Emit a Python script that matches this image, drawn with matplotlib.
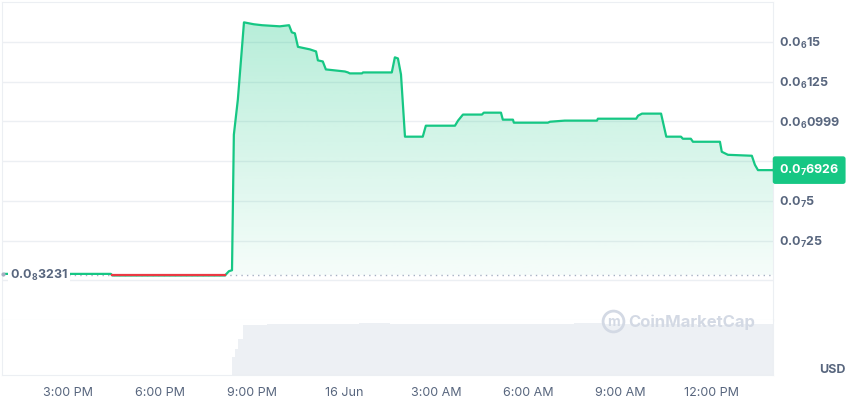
import matplotlib.pyplot as plt
from matplotlib.lines import Line2D
import matplotlib.transforms as mtransforms
import numpy as np

plt.rcParams['font.family'] = ['Inter', 'DejaVu Sans']
plt.rcParams['mathtext.fontset'] = 'custom'
plt.rcParams['mathtext.rm'] = 'Inter'
plt.rcParams['mathtext.bf'] = 'Inter:bold'
plt.rcParams['mathtext.default'] = 'bf'

# hours since 15 Jun 00:00
price_hours = [12.95, 16.40, 16.45, 20.12, 20.25, 20.35, 20.41, 20.54, 20.74, 21.06,
               21.33, 21.91, 22.21, 22.30, 22.40, 22.50, 22.89, 23.09, 23.15, 23.31,
               23.41, 24.03, 24.13, 24.19, 24.59, 24.62, 25.56, 25.66, 25.76, 25.86,
               25.99, 26.57, 26.67, 27.62, 27.72, 27.88, 28.50, 28.56, 29.12, 29.18,
               29.51, 29.54, 30.65, 30.72, 31.20, 32.25, 32.28, 33.53, 33.59, 33.72,
               34.34, 34.51, 34.99, 35.05, 35.31, 35.38, 36.26, 36.32, 36.52, 37.30,
               37.40, 37.50, 37.99]
# price in units of 1e-8 USD
price_e8 = [0.40, 0.40, 0.30, 0.30, 0.57, 0.63, 9.15, 11.36, 16.22, 16.10,
            16.04, 15.97, 16.04, 15.59, 15.53, 14.68, 14.52, 14.39, 13.83, 13.76,
            13.26, 13.13, 13.07, 13.01, 13.01, 13.07, 13.07, 14.02, 13.95, 12.94,
            9.03, 9.03, 9.72, 9.72, 10.04, 10.42, 10.42, 10.54, 10.54, 10.10,
            10.10, 9.91, 9.91, 9.97, 10.04, 10.04, 10.16, 10.16, 10.35, 10.48,
            10.48, 9.03, 9.03, 8.90, 8.90, 8.71, 8.71, 8.08, 7.89, 7.83,
            7.26, 6.926, 6.926]

open_price = 0.3231e-8
last_price = 6.926e-8

vol_hours = [12.85, 20.30, 20.35, 20.45, 20.55, 20.70, 21.5, 22.5, 23.5, 24.5, 25.5,
             26.5, 27.5, 28.5, 29.5, 30.5, 31.5, 32.5, 33.5, 34.5, 35.5, 36.5,
             37.5, 37.99]
vol = [0, 0, 0.35, 0.50, 0.68, 0.96, 0.98, 0.97, 0.98, 0.99, 0.98, 0.97,
       0.98, 0.98, 0.97, 0.98, 0.99, 0.98, 0.97, 0.97, 0.96, 0.97, 0.98, 0.98]

x_ticks = [15, 18, 21, 24, 27, 30, 33, 36]
x_labels = ['3:00 PM', '6:00 PM', '9:00 PM', '16 Jun', '3:00 AM', '6:00 AM',
            '9:00 AM', '12:00 PM']
# the 0.0_7 75 label sits under the price tag, so it is left out
y_ticks = [2.5e-8, 5e-8, 9.99e-8, 1.25e-7, 1.5e-7]
y_labels = ['0.0$_7$25', '0.0$_7$5', '0.0$_6$0999', '0.0$_6$125', '0.0$_6$15']

green = '#16c784'
red = '#ea3943'
txt = '#58667e'
edge = '#eceff3'

price = np.array(price_e8) * 1e-8
hours = np.array(price_hours)

fig = plt.figure(figsize=(8.5, 4), dpi=100)
W, H = 850, 400
ax = fig.add_axes([2 / W, 1 - 320 / H, 771 / W, 318 / H])
axv = fig.add_axes([2 / W, 1 - 375 / H, 771 / W, 55 / H])

xmin, xmax = 12.85, 37.99
ax.set_xlim(xmin, xmax)
ax.set_ylim(-2.5e-8, 17.5e-8)

for g in np.arange(0, 17.5, 2.5):
    ax.axhline(g * 1e-8, color=edge, lw=1, zorder=0)

# gradient fill under the line
poly = ax.fill_between(hours, price, open_price, color='none', lw=0)
img = np.zeros((256, 1, 4))
img[..., :3] = np.array([22, 199, 132]) / 255
img[..., 3] = np.linspace(0.04, 0.33, 256)[:, None]
im = ax.imshow(img, origin='lower', aspect='auto',
               extent=[xmin, xmax, open_price, 17.5e-8], zorder=1)
im.set_clip_path(poly.get_paths()[0], transform=ax.transData)

ax.axhline(open_price, color='#a6b0c3', lw=1, ls=(0, (1, 3)), zorder=2)

ax.plot(hours, price, color=green, lw=1.6, zorder=3, solid_joinstyle='round')
below = np.ma.masked_where(price >= open_price, price)
ax.plot(hours, below, color=red, lw=1.6, zorder=4)

ax.set_xticks([])
ax.yaxis.tick_right()
ax.set_yticks(y_ticks)
ax.set_yticklabels(y_labels)
ax.tick_params(axis='y', length=0, pad=4, labelsize=9, labelcolor=txt)
for t in ax.get_yticklabels():
    t.set_fontweight('bold')
for s in ax.spines.values():
    s.set_color(edge)

# current price tag
off = mtransforms.ScaledTranslation(6 / 100, 0, fig.dpi_scale_trans)
tr = mtransforms.blended_transform_factory(ax.transAxes, ax.transData) + off
ax.text(1.0, last_price, '0.0$_7$6926', transform=tr, ha='left', va='center',
        color='white', fontsize=9, fontweight='bold', clip_on=False, zorder=10,
        bbox=dict(boxstyle='round,pad=0.5,rounding_size=0.2', fc=green, ec='none'))
ax.plot([xmax, xmax + 0.2], [last_price, last_price], color=green, lw=1.6,
        clip_on=False, zorder=3)

# open price label
trl = mtransforms.blended_transform_factory(ax.transAxes, ax.transData)
ax.plot([0.001], [open_price + 0.1e-8], 'o', ms=2, color='#a6b0c3', transform=trl,
        clip_on=False, zorder=5)
ax.text(8 / 771, open_price, '0.0$_8$3231', transform=trl, ha='left', va='center',
        color=txt, fontsize=9, fontweight='bold', zorder=6,
        bbox=dict(boxstyle='square,pad=0.15', fc='white', ec='none'))

# volume
axv.fill_between(vol_hours, vol, step='post', color='#edf0f4', lw=0)
axv.set_xlim(xmin, xmax)
axv.set_ylim(0, max(vol) * 55 / 52)
axv.set_yticks([])
axv.set_xticks(x_ticks)
axv.set_xticklabels(x_labels)
axv.tick_params(axis='x', length=0, pad=9, labelsize=9, labelcolor=txt)
axv.spines['top'].set_visible(False)
for s in ['left', 'right', 'bottom']:
    axv.spines[s].set_color(edge)

# watermark
fig.text(628 / W, 1 - 322 / H, 'CoinMarketCap', color='#d3d9e4', fontsize=12,
         fontweight='bold', ha='left', va='center')
fig.add_artist(Line2D([613 / W], [1 - 321 / H], marker='o', ms=15, mfc='none',
                      mec='#d3d9e4', mew=2, transform=fig.transFigure))
fig.text(613 / W, 1 - 322 / H, 'm', color='#d3d9e4', fontsize=10,
         fontweight='bold', ha='center', va='center')

fig.text(832 / W, 1 - 370 / H, 'USD', color=txt, fontsize=9, fontweight='bold',
         ha='center', va='center')

fig.savefig('out.png', dpi=100)
